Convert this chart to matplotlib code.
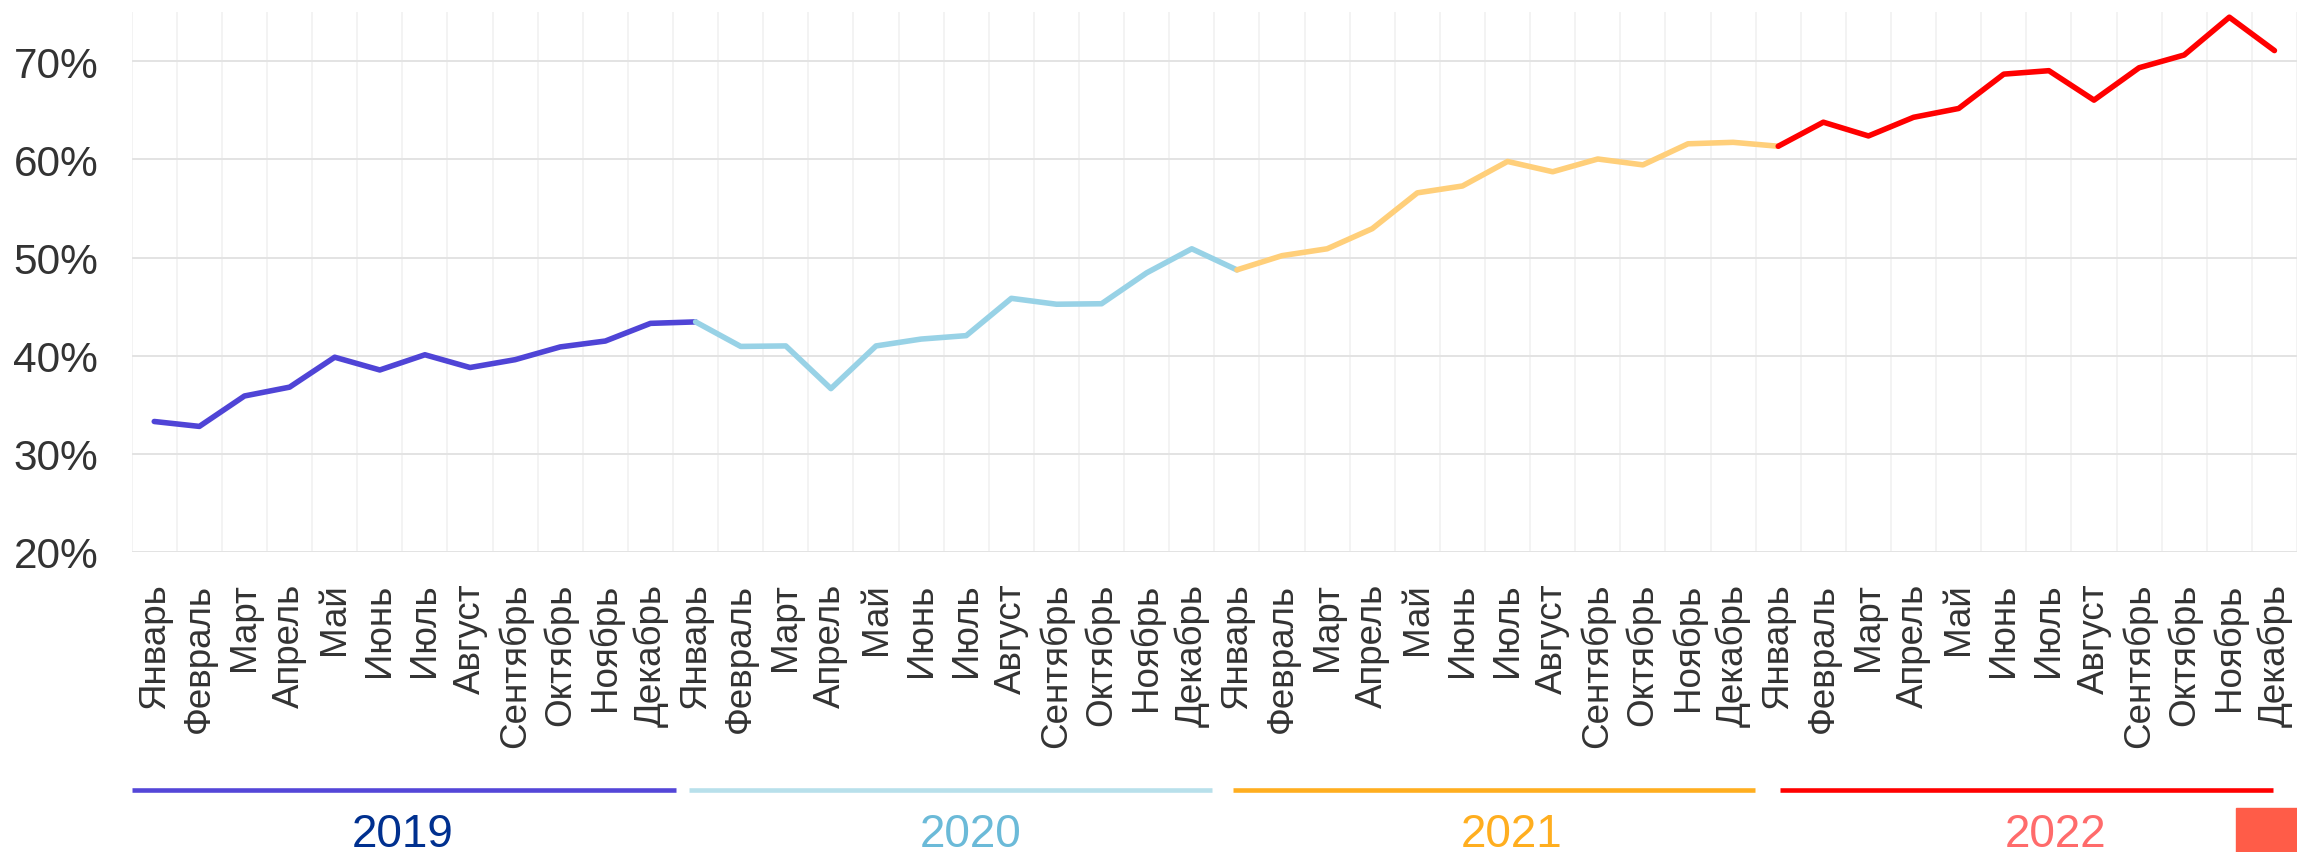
import matplotlib

matplotlib.use("Agg")
import matplotlib.pyplot as plt
import matplotlib.ticker as mticker
import matplotlib.transforms as mtransforms
from matplotlib.patches import Rectangle
import numpy as np

plt.rcParams["font.family"] = ["Liberation Sans", "DejaVu Sans"]

# --- data ------------------------------------------------------------------
months = ["Январь", "Февраль", "Март", "Апрель", "Май", "Июнь", "Июль",
          "Август", "Сентябрь", "Октябрь", "Ноябрь", "Декабрь"]
years = ["2019", "2020", "2021", "2022"]

share_2019 = [33.3, 32.8, 35.9, 36.8, 39.85, 38.55, 40.1, 38.8, 39.6, 40.9, 41.5, 43.3]
share_2020 = [43.45, 40.95, 41.0, 36.65, 41.0, 41.7, 42.05, 45.85, 45.25, 45.3, 48.45, 50.9]
share_2021 = [48.75, 50.2, 50.9, 52.95, 56.6, 57.3, 59.8, 58.75, 60.05, 59.45, 61.6, 61.75]
share_2022 = [61.35, 63.8, 62.4, 64.3, 65.2, 68.7, 69.05, 66.05, 69.35, 70.65, 74.5, 71.1]

# --- style -----------------------------------------------------------------
LINE_COLORS = ["#4f44d6", "#98d2e6", "#ffcf7a", "#ff0000"]
BAR_COLORS = ["#5446d8", "#b8e0eb", "#ffae1f", "#ff0000"]
TEXT_COLORS = ["#00308f", "#6bbad8", "#ffae1f", "#ff6b6b"]
# year legend bars: (left inset, right inset) in month bands, label shift
BAR_INSETS = [(0.0, -0.07), (0.36, 0.06), (0.42, 0.01), (0.53, 0.54)]
LABEL_SHIFT = [0.0, 0.6, 0.6, 0.65]

W, H = 2297, 853
fig = plt.figure(figsize=(W / 100, H / 100), dpi=100)
ax = fig.add_axes([131.7 / W, (H - 553) / H, 1 - 131.7 / W, (553 - 13.3) / H])

series = [share_2019, share_2020, share_2021, share_2022]
values = np.concatenate(series)
x = np.arange(len(values))

for i, color in enumerate(LINE_COLORS):
    lo, hi = 12 * i, min(12 * i + 13, len(values))
    ax.plot(x[lo:hi], values[lo:hi], color=color, lw=4.0,
            solid_capstyle="round", solid_joinstyle="round", zorder=3 + i)

ax.set_xlim(-0.5, len(values) - 0.5)
ax.set_ylim(20, 75)
ax.set_yticks(np.arange(20, 71, 10))
ax.yaxis.set_major_formatter(mticker.FuncFormatter(lambda v, _: f"{v:.0f}%"))
ax.set_xticks(x)
ax.set_xticklabels(months * len(years), rotation=90)
ax.set_xticks(np.arange(-0.5, len(values)), minor=True)

ax.tick_params(axis="y", length=0, pad=24, labelsize=30.5, labelcolor="#333333")
ax.tick_params(axis="x", which="both", length=0, pad=22, labelsize=26.5, labelcolor="#333333")
ax.grid(axis="y", color="#e3e3e3", lw=1.4)
ax.grid(axis="x", which="minor", color="#f2f2f2", lw=1.3)
ax.grid(axis="x", which="major", visible=False)
ax.set_axisbelow(True)
for s in ax.spines.values():
    s.set_visible(False)

# year legend under the month labels
trans = mtransforms.blended_transform_factory(ax.transData, fig.transFigure)
for i, yr in enumerate(years):
    start = 12 * i - 0.5 + BAR_INSETS[i][0]
    end = 12 * i + 11.5 - BAR_INSETS[i][1]
    ax.plot([start, end], [(H - 791) / H] * 2, transform=trans, color=BAR_COLORS[i],
            lw=3.3, solid_capstyle="butt", clip_on=False)
    ax.text(12 * i + 5.5 + LABEL_SHIFT[i], (H - 847) / H, yr, transform=trans,
            ha="center", va="baseline", fontsize=33, color=TEXT_COLORS[i])

fig.patches.append(Rectangle((2236 / W, 0), (W - 2236) / W, (H - 809) / H,
                             transform=fig.transFigure, color="#ff5c48", zorder=5))

fig.savefig("out.png", dpi=100)
